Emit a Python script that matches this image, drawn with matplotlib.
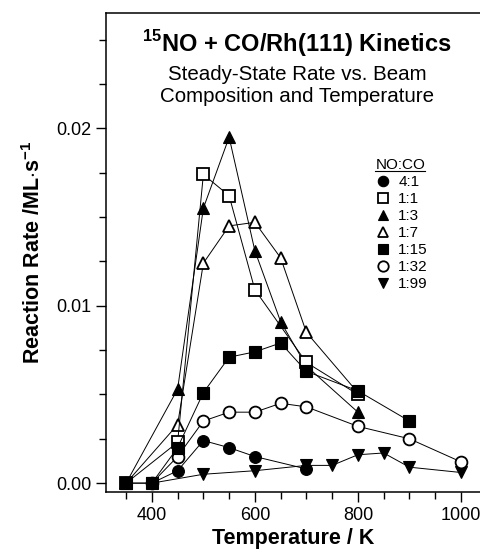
import matplotlib
matplotlib.use('Agg')
import matplotlib.pyplot as plt
from matplotlib.ticker import MultipleLocator, FormatStrFormatter
from matplotlib.lines import Line2D

plt.rcParams['font.family'] = ['Liberation Sans', 'DejaVu Sans']
plt.rcParams['mathtext.fontset'] = 'custom'
plt.rcParams['mathtext.rm'] = 'Liberation Sans'
plt.rcParams['mathtext.bf'] = 'Liberation Sans:bold'

# data (temperature in K, rate in ML/s)
t_41 = [350, 400, 450, 500, 550, 600, 700]
r_41 = [0, 0, 0.0007, 0.0024, 0.0020, 0.0015, 0.0008]

t_11 = [350, 450, 500, 550, 600, 700, 800]
r_11 = [0, 0.0023, 0.0174, 0.0162, 0.0109, 0.0068, 0.0050]

t_13 = [350, 450, 500, 550, 600, 650, 700, 800]
r_13 = [0, 0.0053, 0.0155, 0.0195, 0.0131, 0.0091, 0.0066, 0.0040]

t_17 = [350, 450, 500, 550, 600, 650, 700, 800]
r_17 = [0, 0.0033, 0.0124, 0.0145, 0.0147, 0.0127, 0.0085, 0.0051]

t_115 = [350, 400, 450, 500, 550, 600, 650, 700, 800, 900]
r_115 = [0, 0, 0.0020, 0.0051, 0.0071, 0.0074, 0.0079, 0.0063, 0.0052, 0.0035]

t_132 = [400, 450, 500, 550, 600, 650, 700, 800, 900, 1000]
r_132 = [0, 0.0015, 0.0035, 0.0040, 0.0040, 0.0045, 0.0043, 0.0032, 0.0025, 0.0012]

t_199 = [400, 500, 600, 700, 750, 800, 850, 900, 1000]
r_199 = [0, 0.0005, 0.0007, 0.0010, 0.0010, 0.0016, 0.0017, 0.0009, 0.0006]

labels = ['4:1', '1:1', '1:3', '1:7', '1:15', '1:32', '1:99']

fig = plt.figure(figsize=(4.81, 5.56), dpi=100)
ax = fig.add_axes([0.2204, 0.1151, 0.7796, 0.8615])

lw = 0.7
ms = 8.5
open_kw = dict(mfc='white', mec='black', mew=1.3)
fill_kw = dict(mfc='black', mec='black', mew=0.8)

# draw order: lowest first, filled squares on top
ax.plot(t_199, r_199, color='black', lw=lw, marker='v', ms=ms, **fill_kw, zorder=3)
ax.plot(t_41, r_41, color='black', lw=lw, marker='o', ms=ms, **fill_kw, zorder=3)
ax.plot(t_132, r_132, color='black', lw=lw, marker='o', ms=ms, **open_kw, zorder=3)
ax.plot(t_17, r_17, color='black', lw=lw, marker='^', ms=ms, **open_kw, zorder=3)
ax.plot(t_13, r_13, color='black', lw=lw, marker='^', ms=ms, **fill_kw, zorder=3)
ax.plot(t_11, r_11, color='black', lw=lw, marker='s', ms=ms, **open_kw, zorder=4)
ax.plot(t_115, r_115, color='black', lw=lw, marker='s', ms=ms, **fill_kw, zorder=5)

ax.set_xlim(311, 1039)
ax.set_ylim(-0.0005, 0.0265)

ax.xaxis.set_major_locator(MultipleLocator(200))
ax.xaxis.set_minor_locator(MultipleLocator(50))
ax.yaxis.set_major_locator(MultipleLocator(0.01))
ax.yaxis.set_minor_locator(MultipleLocator(0.0025))
ax.yaxis.set_major_formatter(FormatStrFormatter('%.2f'))
ax.tick_params(which='major', direction='out', length=7, width=1.0, labelsize=13)
ax.tick_params(which='minor', direction='out', length=5, width=1.0)
ax.spines['right'].set_visible(False)
for s in ['left', 'bottom', 'top']:
    ax.spines[s].set_linewidth(1.1)

ax.set_xlabel('Temperature / K', fontsize=15.5, fontweight='bold', labelpad=3)
ax.set_ylabel(r'Reaction Rate /ML$\cdot$s$^{\mathbf{-1}}$', fontsize=15.5,
              fontweight='bold', labelpad=8)

ax.text(0.51, 0.937, r'$^{\mathbf{15}}$NO + CO/Rh(111) Kinetics',
        transform=ax.transAxes, ha='center', va='center',
        fontsize=17, fontweight='bold')
ax.text(0.51, 0.872, 'Steady-State Rate vs. Beam', transform=ax.transAxes,
        ha='center', va='center', fontsize=14.8)
ax.text(0.51, 0.826, 'Composition and Temperature', transform=ax.transAxes,
        ha='center', va='center', fontsize=14.8)

# legend
styles = [('o', fill_kw), ('s', open_kw), ('^', fill_kw), ('^', open_kw),
          ('s', fill_kw), ('o', open_kw), ('v', fill_kw)]
handles = [Line2D([], [], ls='none', marker=m, ms=7.5, **kw) for m, kw in styles]
leg = ax.legend(handles, labels, title='NO:CO', loc='upper left',
                bbox_to_anchor=(0.69, 0.72), frameon=False, fontsize=11,
                title_fontsize=11, labelspacing=0.2, handlelength=1.0,
                handletextpad=0.5, borderpad=0.2)
leg._legend_box.align = 'left'

# underline legend title
fig.canvas.draw()
bb = leg.get_title().get_window_extent()
inv = fig.transFigure.inverted()
(x0, y0), (x1, _) = inv.transform([(bb.x0, bb.y0 + 1), (bb.x1, bb.y0)])
fig.add_artist(Line2D([x0, x1], [y0, y0], color='black', lw=0.8,
                      transform=fig.transFigure))

fig.savefig('out.png', dpi=100)
